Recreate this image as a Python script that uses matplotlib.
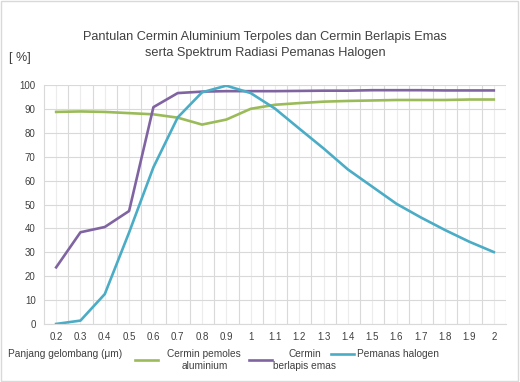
import numpy as np
import matplotlib
matplotlib.use('Agg')
import matplotlib.pyplot as plt
from matplotlib.patches import Rectangle

plt.rcParams['font.family'] = ['Liberation Sans', 'DejaVu Sans']

wavelength = [0.2, 0.3, 0.4, 0.5, 0.6, 0.7, 0.8, 0.9, 1.0, 1.1,
              1.2, 1.3, 1.4, 1.5, 1.6, 1.7, 1.8, 1.9, 2.0]
tick_labels = ['0.2', '0.3', '0.4', '0.5', '0.6', '0.7', '0.8', '0.9', '1', '1.1',
               '1.2', '1.3', '1.4', '1.5', '1.6', '1.7', '1.8', '1.9', '2']
aluminium = [88.8, 89.0, 88.8, 88.3, 87.8, 86.4, 83.5, 85.6, 90.1, 91.8,
             92.5, 93.1, 93.4, 93.6, 93.8, 93.8, 93.8, 94.0, 94.0]
emas = [23.7, 38.4, 40.6, 47.3, 90.8, 96.7, 97.3, 97.5, 97.5, 97.5,
        97.6, 97.7, 97.7, 97.9, 97.9, 97.9, 97.8, 97.8, 97.8]
halogen = [0.0, 1.4, 12.5, 38.3, 65.6, 86.5, 97.0, 99.8, 96.7, 90.2,
           81.8, 73.5, 64.7, 57.5, 50.3, 44.6, 39.3, 34.4, 30.1]

fig = plt.figure(figsize=(5.2, 3.82), dpi=100)
ax = fig.add_axes([0.0846, 0.152, 0.8884, 0.625])

l1, = ax.plot(wavelength, aluminium, color='#9bbb59', lw=1.9)
l2, = ax.plot(wavelength, emas, color='#8064a2', lw=1.9)
l3, = ax.plot(wavelength, halogen, color='#4bacc6', lw=1.9)

ax.set_xlim(0.15, 2.05)
ax.set_ylim(0, 100)
ax.set_xticks(wavelength)
ax.set_xticklabels(tick_labels)
ax.set_xticks(np.arange(0.25, 2.06, 0.1), minor=True)
ax.set_yticks(range(0, 101, 10))
ax.tick_params(axis='both', length=0, labelsize=7, colors='#404040', pad=6)
ax.tick_params(axis='x', which='minor', length=0)
ax.grid(axis='x', which='major', color='#ececec', lw=0.8)
ax.grid(axis='x', which='minor', color='#d9d9d9', lw=0.8)
ax.grid(axis='y', color='#d9d9d9', lw=0.8)
ax.set_axisbelow(True)
for s in ['top', 'right']:
    ax.spines[s].set_visible(False)
ax.spines['left'].set_color('#d9d9d9')
ax.spines['bottom'].set_color('#d9d9d9')

fig.text(0.51, 0.903, 'Pantulan Cermin Aluminium Terpoles dan Cermin Berlapis Emas',
         ha='center', va='center', fontsize=9.2, color='#404040')
fig.text(0.51, 0.86, 'serta Spektrum Radiasi Pemanas Halogen',
         ha='center', va='center', fontsize=9.2, color='#404040')
fig.text(0.038, 0.848, '[ %]', ha='center', va='center', fontsize=9, color='#404040')
fig.text(0.015, 0.073, 'Panjang gelombang (μm)', ha='left', va='center',
         fontsize=7.3, color='#404040')

# separate legend boxes, like the Excel layout
entries = [(l1, 'Cermin pemoles\naluminium', 135, 0.9),
           (l2, 'Cermin\nberlapis emas', 249, 0.1),
           (l3, 'Pemanas halogen', 331, 0.3)]
for h, lab, px, pad in entries:
    y = 0.058 if '\n' in lab else 0.073
    leg = fig.legend([h], [lab], loc='center left', bbox_to_anchor=(px / 520, y),
                     frameon=False, fontsize=7.3, handlelength=2.3,
                     handletextpad=pad, borderpad=0, borderaxespad=0)
    for t in leg.get_texts():
        t.set_multialignment('center')
        t.set_color('#404040')

fig.patches.append(Rectangle((0.002, 0.003), 0.995, 0.994, transform=fig.transFigure,
                             fill=False, edgecolor='#d9d9d9', lw=1))

plt.savefig('out.png', dpi=100)
